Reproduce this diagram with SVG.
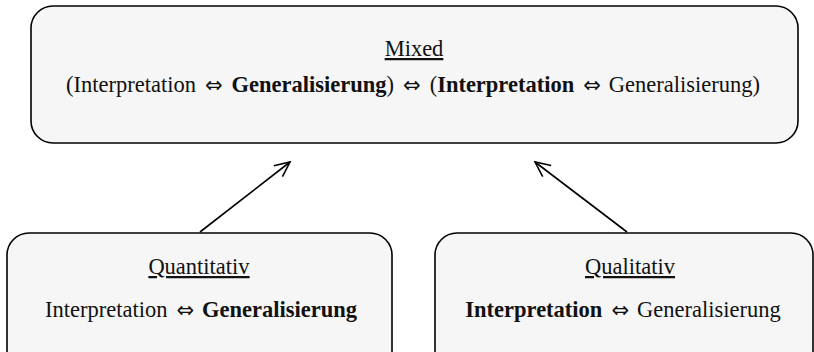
<svg xmlns="http://www.w3.org/2000/svg" width="814" height="352" viewBox="0 0 814 352">
<style>
.box{fill:#f6f6f6;stroke:#000;stroke-width:1.6}
text{font-family:"Liberation Serif","Times New Roman",serif;font-size:22.5px;fill:#111;text-anchor:middle}
.b{font-weight:bold}
.u{text-decoration:underline}
.s{font-family:"DejaVu Sans",sans-serif;font-size:21px;font-weight:normal}
.conn line{stroke:#000;stroke-width:1.6}
</style>
<defs>
<marker id="arr" markerWidth="20" markerHeight="20" refX="18" refY="10" orient="auto" markerUnits="userSpaceOnUse">
<path d="M3,3 L18,10 L3,17" fill="none" stroke="#000" stroke-width="1.6"/>
</marker>
</defs>
<g id="mixed">
<rect class="box" x="31" y="6" width="767" height="137" rx="22"/>
<text x="414" y="56" class="u">Mixed</text>
<text x="413" y="92">(Interpretation<tspan class="s" dx="9">⇔</tspan><tspan class="b" dx="9">Generalisierung</tspan>)<tspan class="s" dx="9">⇔</tspan><tspan dx="9">(</tspan><tspan class="b">Interpretation</tspan><tspan class="s" dx="9">⇔</tspan><tspan dx="8">Generalisierung)</tspan></text>
</g>
<g id="quantitativ">
<rect class="box" x="7" y="233" width="385" height="140" rx="22"/>
<text x="199" y="274" class="u">Quantitativ</text>
<text x="201" y="317">Interpretation<tspan class="s" dx="9">⇔</tspan><tspan class="b" dx="8">Generalisierung</tspan></text>
</g>
<g id="qualitativ">
<rect class="box" x="435" y="233" width="378" height="140" rx="22"/>
<text x="630" y="274" class="u">Qualitativ</text>
<text x="623" y="317"><tspan class="b">Interpretation</tspan><tspan class="s" dx="9">⇔</tspan><tspan dx="8">Generalisierung</tspan></text>
</g>
<g class="conn">
<line x1="200" y1="232" x2="290" y2="162" marker-end="url(#arr)"/>
<line x1="627" y1="232" x2="535" y2="162" marker-end="url(#arr)"/>
</g>
</svg>
